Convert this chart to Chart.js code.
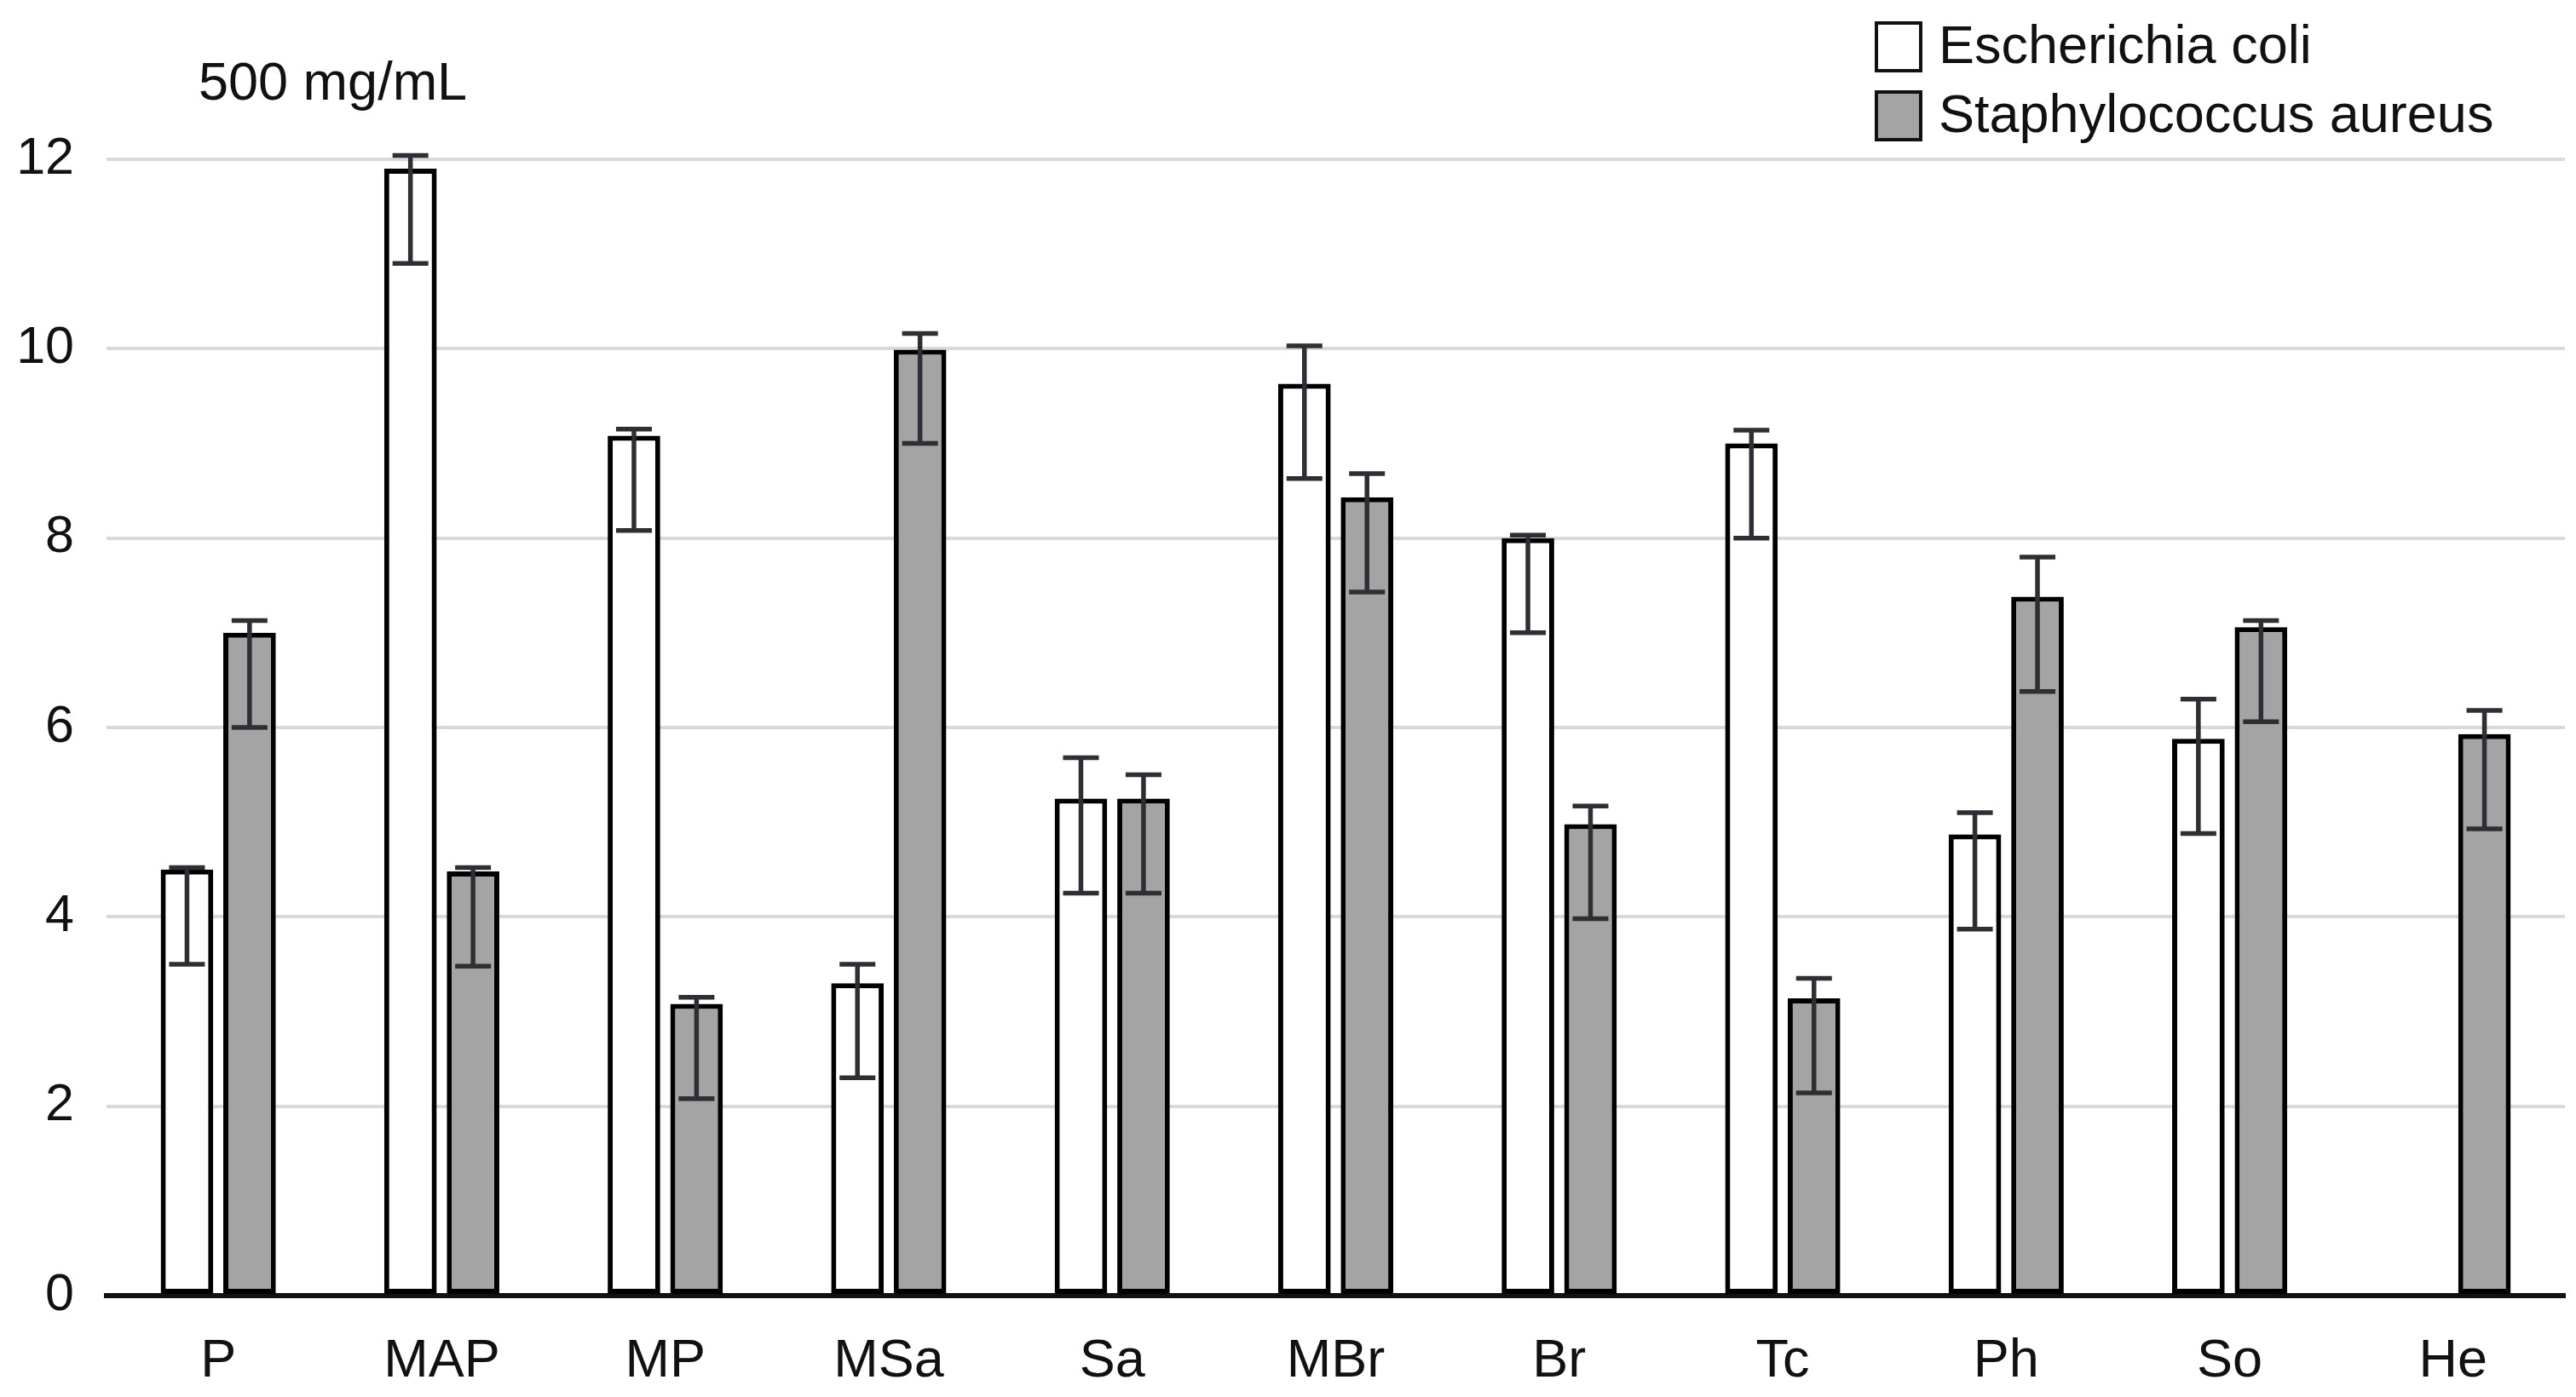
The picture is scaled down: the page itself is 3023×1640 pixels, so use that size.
<!DOCTYPE html>
<html><head><meta charset="utf-8">
<script src="https://cdn.jsdelivr.net/npm/chart.js@4.4.1/dist/chart.umd.min.js"></script>
<style>html,body{margin:0;padding:0;background:#fff;}</style>
</head><body>
<canvas id="c" width="3023" height="1640"></canvas>
<script>
const categories = ['P','MAP','MP','MSa','Sa','MBr','Br','Tc','Ph','So','He'];
const seriesNames = ['Escherichia coli','Staphylococcus aureus'];
const ecoli         = [4.50, 11.90, 9.08, 3.30, 5.25, 9.63, 8.00, 9.00, 4.87, 5.88, null];
const ecoliErrHigh  = [4.52, 12.04, 9.15, 3.50, 5.68, 10.03, 8.03, 9.14, 5.10, 6.30, null];
const ecoliErrLow   = [3.50, 10.90, 8.08, 2.30, 4.25, 8.63, 7.00, 8.00, 3.87, 4.88, null];
const saureus        = [7.00, 4.48, 3.08, 9.99, 5.25, 8.43, 4.98, 3.14, 7.38, 7.06, 5.93];
const saureusErrHigh = [7.13, 4.52, 3.15, 10.16, 5.50, 8.68, 5.17, 3.35, 7.80, 7.13, 6.18];
const saureusErrLow  = [6.00, 3.48, 2.08, 9.00, 4.25, 7.43, 3.98, 2.14, 6.38, 6.06, 4.93];
const yMin = 0, yMax = 12, yStep = 2;
const concentrationLabel = '500 mg/mL';

const FONT = "'Liberation Sans', Arial, sans-serif";
const FS = 63;

const errorBarPlugin = {
  id: 'errorBars',
  afterDatasetsDraw(chart) {
    const ctx = chart.ctx;
    const y = chart.scales.y;
    chart.data.datasets.forEach((ds, di) => {
      const meta = chart.getDatasetMeta(di);
      meta.data.forEach((el, i) => {
        const hi = ds.errHigh[i], lo = ds.errLow[i];
        if (hi == null || lo == null) return;
        const x = el.x;
        const yh = y.getPixelForValue(hi), yl = y.getPixelForValue(lo);
        ctx.save();
        ctx.strokeStyle = '#2e2e34';
        ctx.lineWidth = 5.5;
        ctx.beginPath();
        ctx.moveTo(x, yh); ctx.lineTo(x, yl);
        ctx.moveTo(x - 21, yh); ctx.lineTo(x + 21, yh);
        ctx.moveTo(x - 21, yl); ctx.lineTo(x + 21, yl);
        ctx.stroke();
        ctx.restore();
      });
    });
  }
};

const annotPlugin = {
  id: 'annot',
  afterDraw(chart) {
    const ctx = chart.ctx;
    ctx.save();
    ctx.font = FS + 'px ' + FONT;
    ctx.fillStyle = '#111';
    ctx.textBaseline = 'middle';
    ctx.textAlign = 'left';
    ctx.fillText(concentrationLabel, 233, 100);
    // legend
    const rows = [55, 136];
    chart.data.datasets.forEach((ds, i) => {
      const cy = rows[i];
      ctx.fillStyle = ds.backgroundColor;
      ctx.fillRect(2202, cy - 28, 52, 56);
      ctx.strokeStyle = '#111';
      ctx.lineWidth = 4;
      ctx.strokeRect(2202, cy - 28, 52, 56);
      ctx.fillStyle = '#111';
      ctx.fillText(ds.label, 2275, cy + 2);
    });
    ctx.restore();
  }
};

new Chart(document.getElementById('c'), {
  type: 'bar',
  data: {
    labels: categories,
    datasets: [
      { label: seriesNames[0], data: ecoli, errHigh: ecoliErrHigh, errLow: ecoliErrLow,
        backgroundColor: '#ffffff', borderColor: '#000000', borderWidth: 6, borderSkipped: false,
        categoryPercentage: 0.56, barPercentage: 0.84 },
      { label: seriesNames[1], data: saureus, errHigh: saureusErrHigh, errLow: saureusErrLow,
        backgroundColor: '#a4a4a4', borderColor: '#000000', borderWidth: 6, borderSkipped: false,
        categoryPercentage: 0.56, barPercentage: 0.84 }
    ]
  },
  options: {
    responsive: false,
    devicePixelRatio: 1,
    animation: false,
    layout: { padding: { top: 187, right: 13, bottom: 0, left: 0 } },
    plugins: { legend: { display: false }, tooltip: { enabled: false } },
    scales: {
      x: {
        afterFit(scale) { scale.height = 119; },
        grid: { display: false, drawTicks: false },
        border: { display: true, color: '#111', width: 6 },
        ticks: { color: '#111', font: { family: FONT, size: FS }, padding: 40, maxRotation: 0 }
      },
      y: {
        min: yMin, max: yMax,
        afterFit(scale) { scale.width = 125; },
        grid: { color: '#d9d9d9', lineWidth: 4, drawTicks: false },
        border: { display: false },
        ticks: { stepSize: yStep, color: '#111', font: { family: FONT, size: 61 }, padding: 38 }
      }
    }
  },
  plugins: [errorBarPlugin, annotPlugin]
});
</script>
</body></html>
